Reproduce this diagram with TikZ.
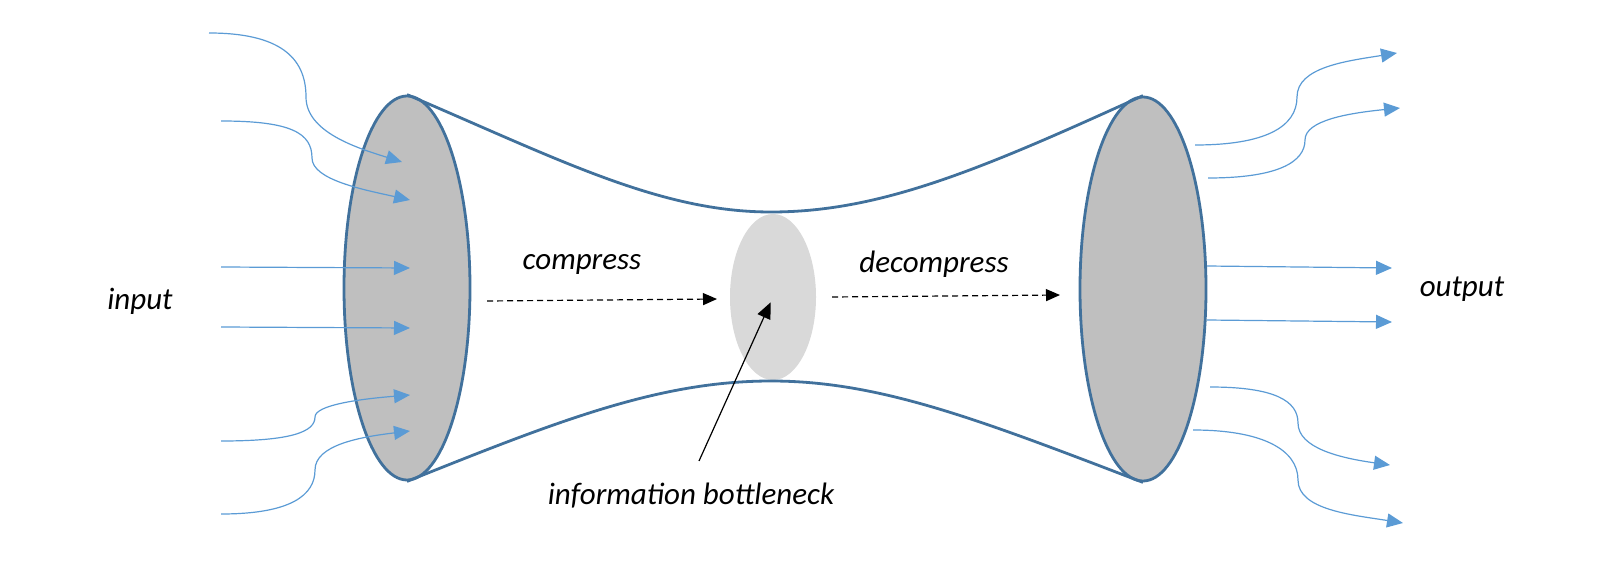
\documentclass[tikz,border=0pt]{standalone}
\usepackage{fontspec}
\setmainfont{Carlito}
\usetikzlibrary{shapes.geometric,arrows.meta}
\definecolor{rimblue}{HTML}{41719C}
\definecolor{flowblue}{HTML}{5B9BD5}
\definecolor{discgray}{HTML}{BFBFBF}
\definecolor{neckgray}{HTML}{D9D9D9}
\begin{document}
\begin{tikzpicture}[x=0.5pt,y=-0.5pt,
    disc/.style={ellipse,draw=rimblue,line width=1.4pt,fill=discgray,inner sep=0pt,minimum width=63pt,minimum height=192pt},
    rim/.style={draw=rimblue,line width=1.4pt},
    flow/.style={draw=flowblue,line width=0.6pt,-{Triangle[length=8pt,width=7pt]}},
    pass/.style={draw=black,line width=0.6pt,dash pattern=on 3pt off 2pt,-{Triangle[length=7pt,width=6pt]}},
    pointer/.style={draw=black,line width=0.6pt,-{Triangle[length=8pt,width=7pt]}},
    lbl/.style={font=\itshape\fontsize{15.5}{18}\selectfont,inner sep=0pt}]
            \useasboundingbox (0,0) rectangle (1617,561);
            % bottleneck and the two discs
            \node[ellipse,fill=neckgray,inner sep=0pt,minimum width=43pt,minimum height=83pt] (neck) at (773,297) {};
            \node[disc] (inL) at (407,288) {};
            \node[disc] (outR) at (1143,289) {};

            % funnel
            \draw[rim] (inL.north) .. controls (560,160) and (660,212) .. (771,212) .. controls (880,212) and (980,170) .. (outR.north);
            \draw[rim] (inL.south) .. controls (560,420) and (660,381) .. (771,381) .. controls (880,381) and (980,420) .. (outR.south);

            % input arrows
            \coordinate (i1) at (209,33);  \coordinate (m1) at (306,97);  \coordinate (a1) at (402,162);
            \coordinate (i2) at (221,121); \coordinate (m2) at (312,158); \coordinate (a2) at (410,200);
            \coordinate (i3) at (221,267); \coordinate (a3) at (410,268);
            \coordinate (i4) at (221,327); \coordinate (a4) at (410,328);
            \coordinate (i5) at (221,441); \coordinate (m5) at (315,417); \coordinate (a5) at (410,395);
            \coordinate (i6) at (221,514); \coordinate (m6) at (315,470); \coordinate (a6) at (410,431);
            \draw[flow] (i1) .. controls +(70,0) and +(0,-40) .. (m1) .. controls +(0,35) and +(-45,-14) .. (a1);
            \draw[flow] (i2) .. controls +(70,0) and +(0,-25) .. (m2) .. controls +(0,22) and +(-45,-10) .. (a2);
            \draw[flow] (i3) -- (a3);
            \draw[flow] (i4) -- (a4);
            \draw[flow] (i5) .. controls +(70,0) and +(0,15) .. (m5) .. controls +(0,-12) and +(-50,4) .. (a5);
            \draw[flow] (i6) .. controls +(70,0) and +(0,25) .. (m6) .. controls +(0,-25) and +(-50,6) .. (a6);

            % output arrows
            \coordinate (o1) at (1195,145); \coordinate (p1) at (1297,97);  \coordinate (b1) at (1397,53);
            \coordinate (o2) at (1208,178); \coordinate (p2) at (1305,140); \coordinate (b2) at (1400,108);
            \coordinate (o3) at (1207,266); \coordinate (b3) at (1392,268);
            \coordinate (o4) at (1207,320); \coordinate (b4) at (1392,322);
            \coordinate (o5) at (1210,387); \coordinate (p5) at (1298,423); \coordinate (b5) at (1390,465);
            \coordinate (o6) at (1193,430); \coordinate (p6) at (1298,480); \coordinate (b6) at (1403,523);
            \draw[flow] (o1) .. controls +(70,0) and +(0,30) .. (p1) .. controls +(0,-30) and +(-50,8) .. (b1);
            \draw[flow] (o2) .. controls +(70,0) and +(0,22) .. (p2) .. controls +(0,-20) and +(-50,5) .. (b2);
            \draw[flow] (o3) -- (b3);
            \draw[flow] (o4) -- (b4);
            \draw[flow] (o5) .. controls +(65,0) and +(0,-22) .. (p5) .. controls +(0,25) and +(-50,-7) .. (b5);
            \draw[flow] (o6) .. controls +(70,0) and +(0,-30) .. (p6) .. controls +(0,30) and +(-50,-8) .. (b6);

            % labels
            \node[lbl] (input) at (140,301) {input};
            \node[lbl] (output) at (1462,289) {output};
            \node[lbl] (compress) at (582,264) {compress};
            \node[lbl] (decompress) at (934,264) {decompress};
            \node[lbl] (bn) at (691,496) {information bottleneck};

            % dashed passes and the pointer
            \coordinate (c0) at (487,301); \coordinate (c1) at (717,299);
            \coordinate (d0) at (832,297); \coordinate (d1) at (1060,295);
            \draw[pass] (c0) -- (c1);
            \draw[pass] (d0) -- (d1);
            \coordinate (ptr) at (699,461);
            \draw[pointer,shorten >=3pt] (ptr) -- (neck.center);
\end{tikzpicture}
\end{document}
